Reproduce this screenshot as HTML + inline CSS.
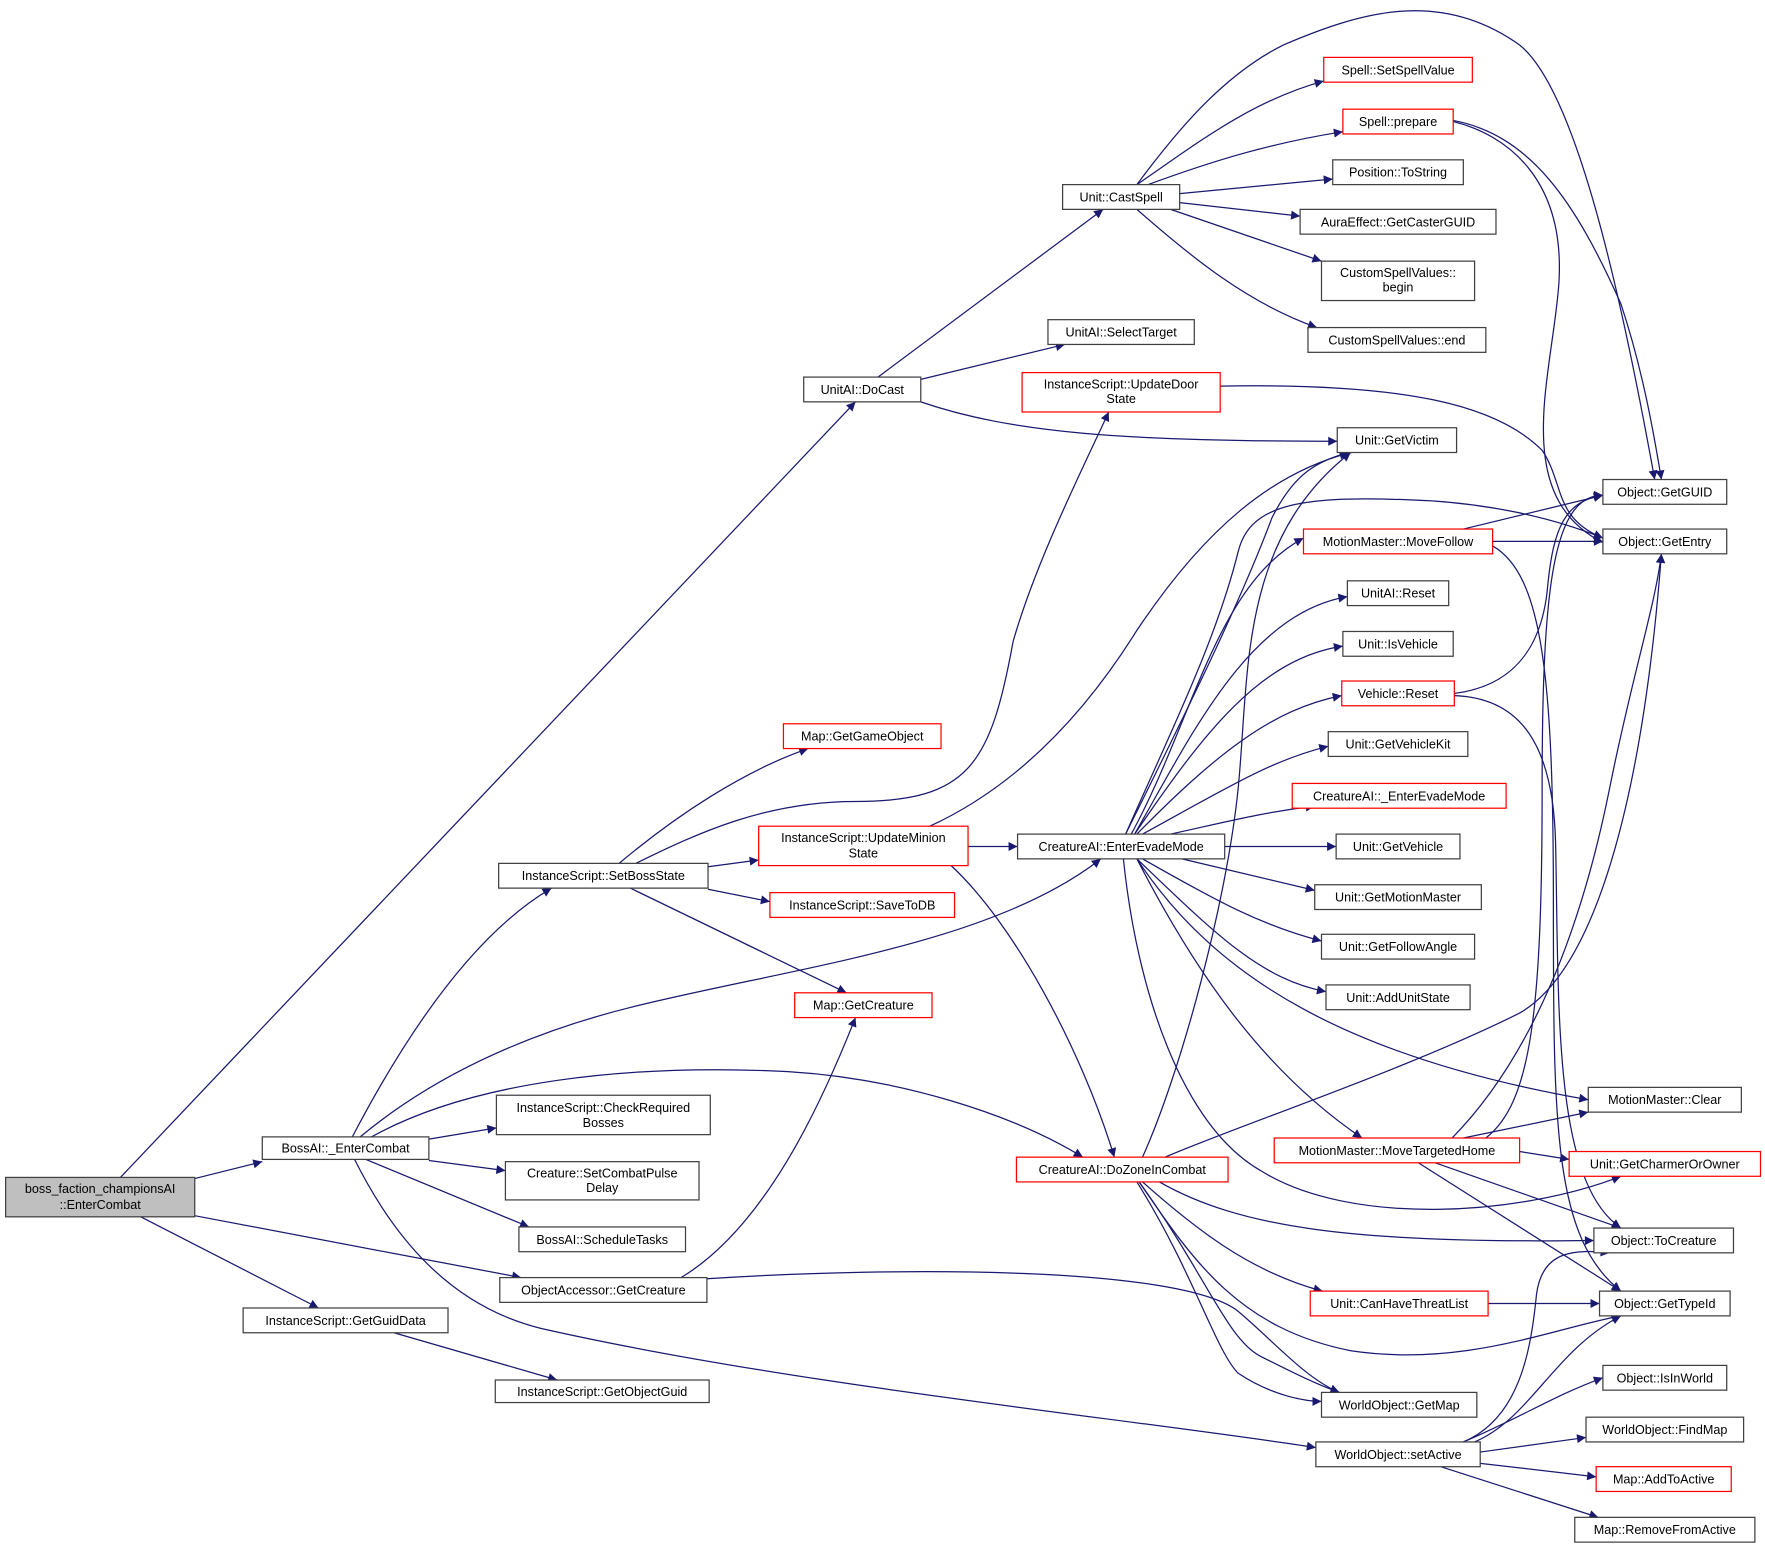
<!DOCTYPE html>
<html><head><meta charset="utf-8"><style>
html,body{margin:0;padding:0;background:#fff;}
svg{display:block;}
text{font-family:"Liberation Sans","DejaVu Sans",sans-serif;font-size:11.2px;fill:#000;text-anchor:middle;}
.n{fill:#fff;stroke:#404040;stroke-width:1.1;}
.r{fill:#fff;stroke:#ff0000;stroke-width:1.1;}
.e{fill:none;stroke:#191970;stroke-width:1.1;}
</style></head><body>
<svg width="1765" height="1550" viewBox="0 0 1568 1377" xmlns="http://www.w3.org/2000/svg">
<defs><marker id="a" viewBox="0 0 10 10" refX="10" refY="5" markerWidth="10" markerHeight="8" markerUnits="userSpaceOnUse" orient="auto"><path d="M0,0 L10,5 L0,10 z" fill="#191970"/></marker></defs>
<g class="e" marker-end="url(#a)">
<path d="M173,1047 L233,1032"/>
<path d="M107,1046 L760,357"/>
<path d="M125,1081 L283,1162"/>
<path d="M173,1080 L463,1135"/>
<path d="M313,1010 C360,920 420,830 490,789"/>
<path d="M381,1012 L441,1002"/>
<path d="M381,1031 L449,1040"/>
<path d="M325,1030 L470,1090"/>
<path d="M320,1010 C380,960 460,920 560,895 C700,860 880,840 978,763"/>
<path d="M330,1010 C420,960 560,945 700,952 C800,958 900,990 962,1028"/>
<path d="M315,1030 C350,1100 400,1160 480,1180 C700,1230 1000,1260 1169,1286"/>
<path d="M350,1184 L495,1226"/>
<path d="M605,1135 C680,1090 730,980 760,904"/>
<path d="M628,1136 C800,1125 1050,1125 1100,1165 C1130,1190 1160,1225 1190,1237"/>
<path d="M550,767 C600,725 660,685 718,665"/>
<path d="M565,767 C620,740 680,712 760,712 C860,712 880,680 900,570 C920,500 960,420 985,366"/>
<path d="M629,770 L674,764"/>
<path d="M629,790 L684,801"/>
<path d="M560,789 L752,882"/>
<path d="M860,752 L904,752"/>
<path d="M826,734 C900,700 960,640 1010,560 C1070,470 1130,420 1200,402"/>
<path d="M845,769 C900,820 960,930 990,1028"/>
<path d="M818,337 L946,306"/>
<path d="M780,335 L980,186"/>
<path d="M818,357 C900,385 1000,392 1188,392"/>
<path d="M1010,164 C1060,130 1110,90 1176,72"/>
<path d="M1020,164 C1080,142 1130,127 1193,117"/>
<path d="M1048,172 L1184,159"/>
<path d="M1048,180 L1155,192"/>
<path d="M1040,186 L1174,232"/>
<path d="M1010,186 C1060,230 1110,270 1170,291"/>
<path d="M1010,164 C1050,110 1090,65 1140,40 C1210,10 1280,-10 1350,40 C1400,80 1440,260 1470,426"/>
<path d="M1291,107 C1360,120 1400,180 1440,270 C1460,330 1470,390 1476,426"/>
<path d="M1291,108 C1340,120 1390,160 1385,250 C1380,330 1340,440 1424,482"/>
<path d="M1084,343 C1250,340 1330,360 1370,400 C1390,430 1380,460 1424,478"/>
<path d="M1000,741 C1050,640 1100,540 1130,460 C1150,420 1170,410 1198,402"/>
<path d="M1000,741 C1040,650 1080,570 1100,490 C1110,450 1150,440 1250,444 C1320,446 1380,460 1424,478"/>
<path d="M1005,741 C1060,640 1080,520 1158,478"/>
<path d="M1008,741 C1060,650 1110,545 1197,530"/>
<path d="M1008,741 C1070,650 1120,585 1193,574"/>
<path d="M1010,741 C1080,670 1130,630 1192,618"/>
<path d="M1015,741 C1090,700 1130,675 1180,663"/>
<path d="M1040,741 C1090,730 1120,722 1168,716"/>
<path d="M1088,752 L1187,752"/>
<path d="M1050,763 L1168,791"/>
<path d="M1015,763 C1080,800 1120,822 1174,836"/>
<path d="M1010,763 C1080,830 1120,870 1178,881"/>
<path d="M1010,763 C1080,870 1200,940 1411,977"/>
<path d="M1010,763 C1060,860 1120,950 1210,1011"/>
<path d="M998,763 C1010,880 1050,1000 1120,1040 C1200,1090 1350,1080 1440,1045"/>
<path d="M1015,1028 C1050,950 1090,800 1100,700 C1110,600 1100,480 1200,402"/>
<path d="M1035,1028 C1100,1000 1250,950 1350,900 C1420,860 1460,700 1476,492"/>
<path d="M1030,1050 C1100,1090 1200,1105 1416,1102"/>
<path d="M1015,1050 C1060,1090 1110,1130 1175,1147"/>
<path d="M1012,1050 C1060,1120 1100,1180 1200,1200 C1300,1215 1380,1180 1440,1169"/>
<path d="M1010,1050 C1060,1130 1080,1200 1100,1220 C1130,1240 1160,1245 1174,1245"/>
<path d="M1012,1050 C1070,1130 1090,1190 1120,1205 C1150,1220 1170,1230 1190,1237"/>
<path d="M1300,470 L1424,440"/>
<path d="M1326,481 L1424,481"/>
<path d="M1326,485 C1370,510 1380,600 1380,800 C1380,1000 1380,1100 1440,1147"/>
<path d="M1292,616 C1340,610 1370,580 1375,520 C1380,470 1390,445 1424,440"/>
<path d="M1292,618 C1350,620 1380,660 1382,750 C1385,900 1380,1050 1440,1091"/>
<path d="M1300,1011 L1411,988"/>
<path d="M1350,1023 L1394,1030"/>
<path d="M1275,1033 L1440,1091"/>
<path d="M1260,1033 L1440,1147"/>
<path d="M1320,1011 C1360,980 1370,900 1370,700 C1370,520 1380,440 1424,440"/>
<path d="M1290,1011 C1350,950 1400,850 1430,700 C1450,600 1470,540 1476,492"/>
<path d="M1322,1158 L1421,1158"/>
<path d="M1300,1281 C1350,1260 1380,1240 1424,1224"/>
<path d="M1315,1290 L1409,1277"/>
<path d="M1315,1300 L1418,1312"/>
<path d="M1280,1303 L1420,1348"/>
<path d="M1300,1281 C1350,1260 1360,1200 1365,1150 C1370,1110 1400,1110 1430,1113"/>
<path d="M1310,1281 C1360,1260 1380,1200 1440,1169"/>
</g>
<g>
<rect x="5" y="1046" width="168" height="35" fill="#bfbfbf" stroke="#404040" stroke-width="1.1"/>
<text x="89" y="1060">boss_faction_championsAI</text><text x="89" y="1074">::EnterCombat</text>
<rect class="n" x="233" y="1010" width="148" height="20"/><text x="307" y="1024">BossAI::_EnterCombat</text>
<rect class="n" x="216" y="1162" width="182" height="22"/><text x="307" y="1177">InstanceScript::GetGuidData</text>
<rect class="n" x="440" y="1226" width="190" height="20"/><text x="535" y="1240">InstanceScript::GetObjectGuid</text>
<rect class="n" x="444" y="1135" width="184" height="22"/><text x="536" y="1150">ObjectAccessor::GetCreature</text>
<rect class="n" x="461" y="1090" width="148" height="22"/><text x="535" y="1105">BossAI::ScheduleTasks</text>
<rect class="n" x="449" y="1032" width="172" height="34"/><text x="535" y="1046">Creature::SetCombatPulse</text><text x="535" y="1059">Delay</text>
<rect class="n" x="441" y="973" width="190" height="35"/><text x="536" y="988">InstanceScript::CheckRequired</text><text x="536" y="1001">Bosses</text>
<rect class="n" x="443" y="767" width="186" height="22"/><text x="536" y="782">InstanceScript::SetBossState</text>
<rect class="r" x="696" y="643" width="140" height="22"/><text x="766" y="658">Map::GetGameObject</text>
<rect class="r" x="674" y="734" width="186" height="35"/><text x="767" y="748">InstanceScript::UpdateMinion</text><text x="767" y="762">State</text>
<rect class="r" x="684" y="793" width="164" height="22"/><text x="766" y="808">InstanceScript::SaveToDB</text>
<rect class="r" x="706" y="882" width="122" height="22"/><text x="767" y="897">Map::GetCreature</text>
<rect class="n" x="714" y="335" width="104" height="22"/><text x="766" y="350">UnitAI::DoCast</text>
<rect class="n" x="931" y="284" width="130" height="22"/><text x="996" y="299">UnitAI::SelectTarget</text>
<rect class="r" x="908" y="331" width="176" height="35"/><text x="996" y="345">InstanceScript::UpdateDoor</text><text x="996" y="358">State</text>
<rect class="n" x="944" y="164" width="104" height="22"/><text x="996" y="179">Unit::CastSpell</text>
<rect class="r" x="1176" y="51" width="132" height="22"/><text x="1242" y="66">Spell::SetSpellValue</text>
<rect class="r" x="1193" y="97" width="98" height="22"/><text x="1242" y="112">Spell::prepare</text>
<rect class="n" x="1184" y="142" width="116" height="22"/><text x="1242" y="157">Position::ToString</text>
<rect class="n" x="1155" y="186" width="174" height="22"/><text x="1242" y="201">AuraEffect::GetCasterGUID</text>
<rect class="n" x="1174" y="232" width="136" height="35"/><text x="1242" y="246">CustomSpellValues::</text><text x="1242" y="259">begin</text>
<rect class="n" x="1162" y="291" width="158" height="22"/><text x="1241" y="306">CustomSpellValues::end</text>
<rect class="n" x="1188" y="380" width="106" height="22"/><text x="1241" y="395">Unit::GetVictim</text>
<rect class="n" x="1424" y="426" width="110" height="22"/><text x="1479" y="441">Object::GetGUID</text>
<rect class="n" x="1424" y="470" width="110" height="22"/><text x="1479" y="485">Object::GetEntry</text>
<rect class="r" x="1158" y="470" width="168" height="22"/><text x="1242" y="485">MotionMaster::MoveFollow</text>
<rect class="n" x="1197" y="516" width="90" height="22"/><text x="1242" y="531">UnitAI::Reset</text>
<rect class="n" x="1193" y="561" width="98" height="22"/><text x="1242" y="576">Unit::IsVehicle</text>
<rect class="r" x="1192" y="605" width="100" height="22"/><text x="1242" y="620">Vehicle::Reset</text>
<rect class="n" x="1180" y="650" width="124" height="22"/><text x="1242" y="665">Unit::GetVehicleKit</text>
<rect class="r" x="1148" y="696" width="190" height="22"/><text x="1243" y="711">CreatureAI::_EnterEvadeMode</text>
<rect class="n" x="1187" y="741" width="110" height="22"/><text x="1242" y="756">Unit::GetVehicle</text>
<rect class="n" x="1168" y="786" width="148" height="22"/><text x="1242" y="801">Unit::GetMotionMaster</text>
<rect class="n" x="1174" y="830" width="136" height="22"/><text x="1242" y="845">Unit::GetFollowAngle</text>
<rect class="n" x="1178" y="875" width="128" height="22"/><text x="1242" y="890">Unit::AddUnitState</text>
<rect class="n" x="904" y="741" width="184" height="22"/><text x="996" y="756">CreatureAI::EnterEvadeMode</text>
<rect class="r" x="903" y="1028" width="188" height="22"/><text x="997" y="1043">CreatureAI::DoZoneInCombat</text>
<rect class="n" x="1411" y="966" width="136" height="22"/><text x="1479" y="981">MotionMaster::Clear</text>
<rect class="r" x="1132" y="1011" width="218" height="22"/><text x="1241" y="1026">MotionMaster::MoveTargetedHome</text>
<rect class="r" x="1394" y="1023" width="170" height="22"/><text x="1479" y="1038">Unit::GetCharmerOrOwner</text>
<rect class="n" x="1416" y="1091" width="124" height="22"/><text x="1478" y="1106">Object::ToCreature</text>
<rect class="r" x="1164" y="1147" width="158" height="22"/><text x="1243" y="1162">Unit::CanHaveThreatList</text>
<rect class="n" x="1421" y="1147" width="116" height="22"/><text x="1479" y="1162">Object::GetTypeId</text>
<rect class="n" x="1424" y="1213" width="110" height="22"/><text x="1479" y="1228">Object::IsInWorld</text>
<rect class="n" x="1174" y="1237" width="138" height="22"/><text x="1243" y="1252">WorldObject::GetMap</text>
<rect class="n" x="1409" y="1259" width="140" height="22"/><text x="1479" y="1274">WorldObject::FindMap</text>
<rect class="n" x="1169" y="1281" width="146" height="22"/><text x="1242" y="1296">WorldObject::setActive</text>
<rect class="r" x="1418" y="1303" width="120" height="22"/><text x="1478" y="1318">Map::AddToActive</text>
<rect class="n" x="1399" y="1348" width="160" height="22"/><text x="1479" y="1363">Map::RemoveFromActive</text>
</g>
</svg>
</body></html>
